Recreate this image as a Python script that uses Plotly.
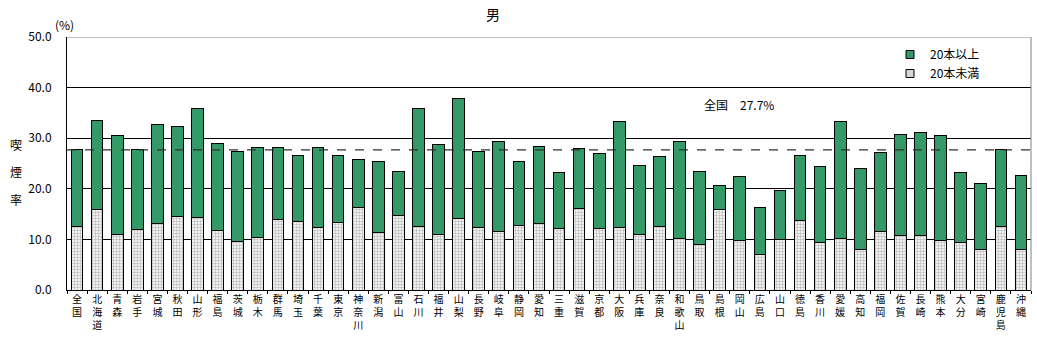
import plotly.graph_objects as go

# 都道府県別 喫煙率（男）: 20本未満 / 20本以上 の内訳
prefectures = [
    "全国", "北海道", "青森", "岩手", "宮城", "秋田", "山形", "福島", "茨城", "栃木",
    "群馬", "埼玉", "千葉", "東京", "神奈川", "新潟", "富山", "石川", "福井", "山梨",
    "長野", "岐阜", "静岡", "愛知", "三重", "滋賀", "京都", "大阪", "兵庫", "奈良",
    "和歌山", "鳥取", "島根", "岡山", "広島", "山口", "徳島", "香川", "愛媛", "高知",
    "福岡", "佐賀", "長崎", "熊本", "大分", "宮崎", "鹿児島", "沖縄",
]

under20 = [
    12.5, 15.9, 11.0, 12.0, 13.1, 14.5, 14.3, 11.8, 9.6, 10.3,
    13.9, 13.5, 12.4, 13.3, 16.3, 11.4, 14.7, 12.5, 11.0, 14.1,
    12.4, 11.6, 12.7, 13.1, 12.2, 16.1, 12.2, 12.4, 11.0, 12.5,
    10.2, 9.0, 15.9, 9.8, 7.1, 10.0, 13.7, 9.4, 10.2, 8.0,
    11.6, 10.8, 10.8, 9.8, 9.4, 8.0, 12.5, 8.0,
]

over20 = [
    15.2, 17.6, 19.5, 15.8, 19.6, 17.9, 21.6, 17.2, 17.7, 17.9,
    14.3, 13.0, 15.8, 13.2, 9.4, 13.9, 8.8, 23.4, 17.8, 23.7,
    14.9, 17.8, 12.6, 15.3, 11.1, 11.9, 14.7, 20.9, 13.7, 13.8,
    19.2, 14.5, 4.7, 12.6, 9.2, 9.6, 12.8, 15.1, 23.1, 16.1,
    15.5, 20.0, 20.4, 20.7, 13.9, 13.0, 15.2, 14.7,
]

national_rate = 27.7
y_ticks = [0, 10, 20, 30, 40, 50]
y_tick_labels = ["0.0", "10.0", "20.0", "30.0", "40.0", "50.0"]

# vertical (one character per line) category labels
vertical_labels = ["<br>".join(list(p)) for p in prefectures]

JP_FONT = "Noto Sans CJK JP"
GREEN = "#339966"

# plot-area geometry in pixels
W, H = 1037, 338
ML, MR, MT, MB = 67, 6, 37, 46
PLOT_W = W - ML - MR
PLOT_H = H - MT - MB


def px_x(x):
    return (x - ML) / PLOT_W


def px_y(y):
    return (H - MB - y) / PLOT_H


fig = go.Figure()

fig.add_trace(go.Bar(
    name="20本未満",
    x=prefectures,
    y=under20,
    marker=dict(
        color="white",
        line=dict(color="black", width=1),
        pattern=dict(shape=".", size=3, solidity=0.5,
                     fgcolor="#7a7a7a", bgcolor="white"),
    ),
    showlegend=False,
))

fig.add_trace(go.Bar(
    name="20本以上",
    x=prefectures,
    y=over20,
    marker=dict(color=GREEN, line=dict(color="black", width=1)),
    showlegend=False,
))

# legend entries with small square keys
fig.add_trace(go.Scatter(
    name="20本以上", x=[None], y=[None], mode="markers",
    marker=dict(symbol="square", size=8, color=GREEN,
                line=dict(color="black", width=1)),
    legendrank=1,
))
fig.add_trace(go.Scatter(
    name="20本未満", x=[None], y=[None], mode="markers",
    marker=dict(symbol="square", size=8, color="#d6d6d6",
                line=dict(color="black", width=1)),
    legendrank=2,
))

# national average reference line
fig.add_shape(
    type="line", xref="paper", yref="y",
    x0=0, x1=1.006, y0=national_rate, y1=national_rate,
    line=dict(color="#303030", width=1.2, dash="dash"),
    layer="above",
)

# gray frame on the top and right of the plot area
fig.add_shape(type="line", xref="paper", yref="y", x0=0, x1=1, y0=50, y1=50,
              line=dict(color="#808080", width=1), layer="above")
fig.add_shape(type="line", xref="paper", yref="paper", x0=1, x1=1, y0=0, y1=1,
              line=dict(color="#808080", width=1), layer="above")

fig.add_annotation(
    text=f"全国　{national_rate}%", x=px_x(739), y=px_y(105), xref="paper", yref="paper",
    showarrow=False, font=dict(family=JP_FONT, size=12, color="black"),
    xanchor="center", yanchor="middle",
)

fig.add_annotation(
    text="(%)", x=px_x(64), y=px_y(24), xref="paper", yref="paper",
    showarrow=False, font=dict(family=JP_FONT, size=12, color="black"),
    xanchor="center", yanchor="middle",
)

# y-axis title, one character per line
for ch, ypix in zip("喫煙率", [145, 173, 201]):
    fig.add_annotation(
        text=ch, x=px_x(8), y=px_y(ypix), xref="paper", yref="paper",
        showarrow=False, font=dict(family=JP_FONT, size=12, color="black"),
    )

fig.update_layout(
    width=W, height=H,
    margin=dict(l=ML, r=MR, t=MT, b=MB),
    barmode="stack",
    bargap=0.42,
    plot_bgcolor="white",
    paper_bgcolor="white",
    title=dict(text="男", x=0.4755, xanchor="center", y=0.955, yanchor="middle",
               font=dict(family=JP_FONT, size=14, color="black")),
    font=dict(family=JP_FONT, color="black"),
    legend=dict(
        x=px_x(890), y=px_y(40), xanchor="left", yanchor="top",
        bgcolor="rgba(0,0,0,0)", borderwidth=0, traceorder="normal",
        font=dict(family=JP_FONT, size=12, color="black"),
        itemwidth=30, tracegroupgap=0,
    ),
    xaxis=dict(
        tickmode="array", tickvals=prefectures, ticktext=vertical_labels,
        tickangle=0, tickfont=dict(family=JP_FONT, size=10, color="black"),
        showline=True, linecolor="black", linewidth=1,
        ticks="outside", ticklen=3, tickcolor="black", tickson="boundaries",
        showgrid=False,
    ),
    yaxis=dict(
        range=[0, 50], tickmode="array", tickvals=y_ticks, ticktext=y_tick_labels,
        tickfont=dict(family=JP_FONT, size=12, color="black"),
        showline=True, linecolor="black", linewidth=1,
        showgrid=True, gridcolor="black", gridwidth=1,
        zeroline=False, ticks="", ticklabelstandoff=12,
    ),
)

fig.write_html("out.html")
